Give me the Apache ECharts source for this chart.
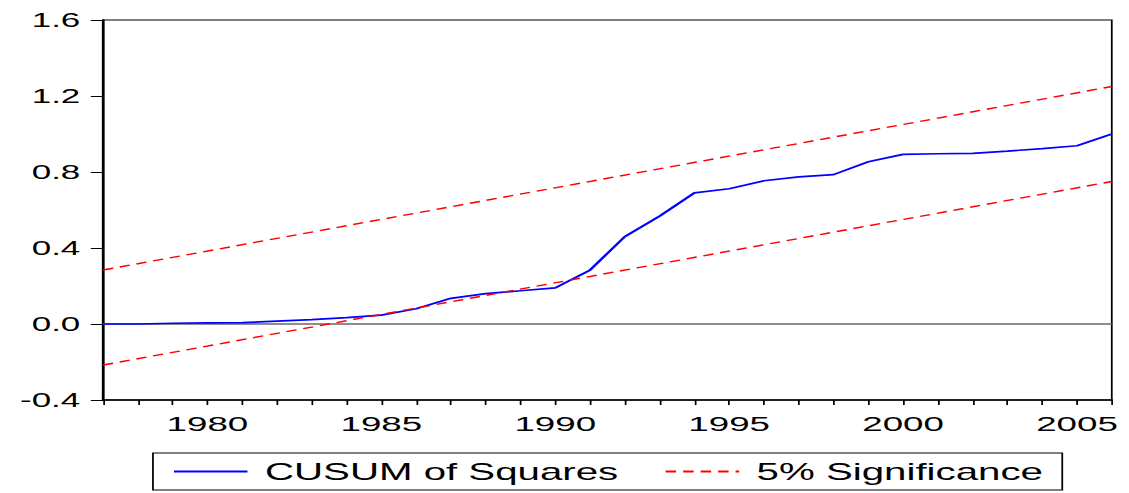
<!DOCTYPE html>
<html>
<head>
<meta charset="utf-8">
<script src="https://cdn.jsdelivr.net/npm/echarts@6/dist/echarts.min.js"></script>
<style>
  html, body { margin: 0; padding: 0; background: #fff; overflow: hidden; }
  /* the reference is stretched sideways, so draw narrow and widen with CSS */
  #main { width: 645.14px; height: 493px; transform: scaleX(1.75); transform-origin: 0 0; }
</style>
</head>
<body>
<div id="main"></div>
<script>
// years on the x axis
var years = [1977, 1978, 1979, 1980, 1981, 1982, 1983, 1984, 1985, 1986,
  1987, 1988, 1989, 1990, 1991, 1992, 1993, 1994, 1995, 1996,
  1997, 1998, 1999, 2000, 2001, 2002, 2003, 2004, 2005, 2006];
// CUSUM of squares statistic
var cusumSq = [0.000, 0.000, 0.004, 0.006, 0.007, 0.015, 0.023, 0.034, 0.047, 0.080,
  0.135, 0.160, 0.175, 0.190, 0.284, 0.460, 0.568, 0.690, 0.712, 0.754,
  0.774, 0.786, 0.854, 0.893, 0.896, 0.898, 0.910, 0.923, 0.938, 1.000];
// 5% significance bounds (straight lines, end points)
var boundYears = [1977, 2006];
var upperBound = [0.284, 1.25];
var lowerBound = [-0.216, 0.75];
// zero reference line
var zeroLine = [0, 0];
// tick labels
var yearLabels = [1980, 1985, 1990, 1995, 2000, 2005];

var font = "'Liberation Sans', Arial, sans-serif";

function pairs(xs, ys) {
  return xs.map(function (x, i) { return [x, ys[i]]; });
}

var chart = echarts.init(document.getElementById("main"), null, { renderer: "svg" });
chart.setOption({
  animation: false,
  grid: {
    left: 58.9, right: 9.7, top: 20, bottom: 93,
    show: true, borderColor: "#000", borderWidth: 1
  },
  legend: {
    left: 87.4, top: 453,
    data: ["CUSUM of Squares", "5% Significance"],
    itemWidth: 42, itemHeight: 14, itemGap: 26,
    padding: [7, 11, 7, 11],
    borderColor: "#000", borderWidth: 1,
    itemStyle: { opacity: 0 },
    textStyle: { fontFamily: font, fontSize: 23, color: "#000", lineHeight: 23, padding: [0, 0, 0, 5] }
  },
  xAxis: {
    type: "value", min: 1977, max: 2006, interval: 1,
    splitLine: { show: false },
    axisLine: { onZero: false, lineStyle: { color: "#000", width: 1.6 } },
    axisTick: { length: 5, lineStyle: { color: "#000", width: 1 } },
    axisLabel: {
      margin: 13, hideOverlap: false,
      fontFamily: font, fontSize: 21, color: "#000",
      formatter: function (v) { return yearLabels.indexOf(v) >= 0 ? String(v) : ""; }
    }
  },
  yAxis: {
    type: "value", min: -0.4, max: 1.6, interval: 0.4,
    splitLine: { show: false },
    axisLine: { show: true, onZero: false, lineStyle: { color: "#000", width: 1.6 } },
    axisTick: { show: true, length: 7, lineStyle: { color: "#000", width: 1 } },
    axisLabel: {
      margin: 13, fontFamily: font, fontSize: 20, color: "#000",
      formatter: function (v) { return v.toFixed(1); }
    }
  },
  series: [
    {
      name: "zero", type: "line", symbol: "none", silent: true,
      data: pairs(boundYears, zeroLine),
      lineStyle: { color: "#666", width: 1.5 },
      z: 1
    },
    {
      name: "CUSUM of Squares", type: "line", symbol: "none",
      data: pairs(years, cusumSq),
      lineStyle: { color: "#0000ff", width: 1.7 },
      itemStyle: { color: "#0000ff" },
      z: 3
    },
    {
      name: "5% Significance", type: "line", symbol: "none",
      data: pairs(boundYears, upperBound),
      lineStyle: { color: "#ff0000", width: 1.4, type: [6, 4] },
      itemStyle: { color: "#ff0000" }
    },
    {
      name: "5% Significance", type: "line", symbol: "none",
      data: pairs(boundYears, lowerBound),
      lineStyle: { color: "#ff0000", width: 1.4, type: [6, 4] },
      itemStyle: { color: "#ff0000" }
    }
  ]
});
</script>
</body>
</html>
